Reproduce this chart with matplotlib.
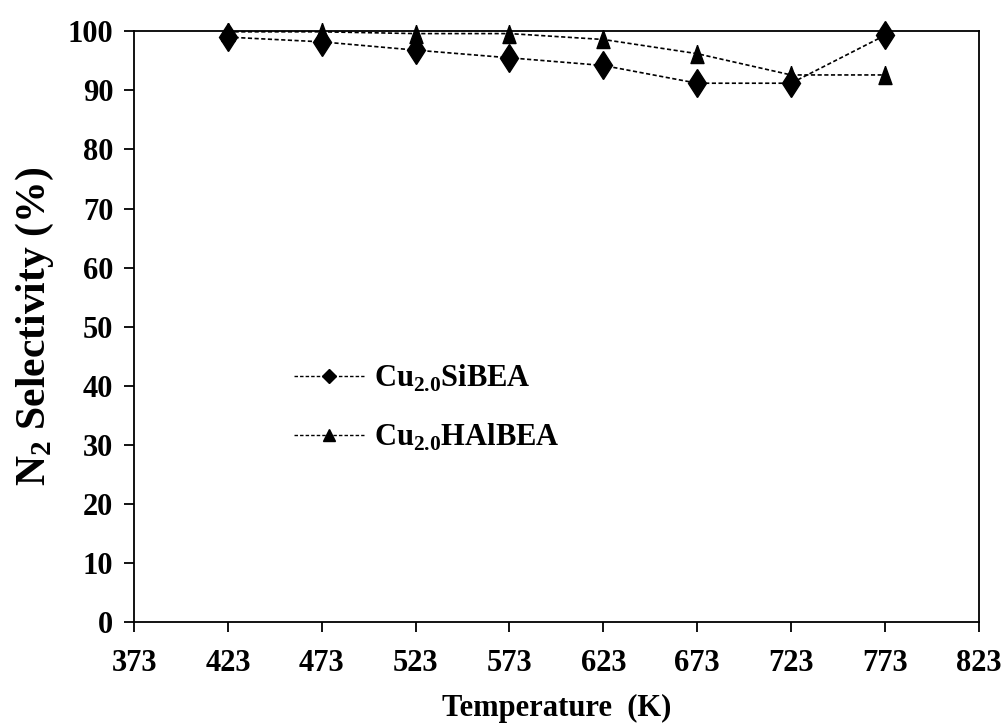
import matplotlib.pyplot as plt
from matplotlib.lines import Line2D

temps = [423, 473, 523, 573, 623, 673, 723, 773]
si_bea = [99.0, 98.2, 96.8, 95.5, 94.2, 91.2, 91.2, 99.3]
hal_bea = [99.9, 99.9, 99.6, 99.6, 98.6, 96.2, 92.6, 92.6]
xticks = [373, 423, 473, 523, 573, 623, 673, 723, 773, 823]
yticks = list(range(0, 101, 10))
labels = [r'Cu$_{\mathregular{2.0}}$SiBEA', r'Cu$_{\mathregular{2.0}}$HAlBEA']

plt.rcParams['font.family'] = ['Liberation Serif', 'DejaVu Serif']
plt.rcParams['font.weight'] = 'bold'
plt.rcParams['mathtext.fontset'] = 'custom'
plt.rcParams['mathtext.rm'] = 'Liberation Serif:bold'
plt.rcParams['mathtext.bf'] = 'Liberation Serif:bold'

tall_tri = [(0, 1), (-0.72, -1), (0.72, -1), (0, 1)]
dash = (0, (2.5, 1.5))

fig = plt.figure(figsize=(10.08, 7.26), dpi=100)
ax = fig.add_axes([0.133, 0.143, 0.838, 0.814])

ax.plot(temps, si_bea, linestyle=dash, color='black', linewidth=1.2,
        marker='d', markersize=14.5, markerfacecolor='black',
        clip_on=False, zorder=3)
ax.plot(temps, hal_bea, linestyle=dash, color='black', linewidth=1.2,
        marker=tall_tri, markersize=13, markerfacecolor='black',
        clip_on=False, zorder=3)

ax.set_xlim(373, 823)
ax.set_ylim(0, 100)
ax.set_xticks(xticks)
ax.set_yticks(yticks)
ax.tick_params(axis='both', direction='out', length=7, width=1.3, labelsize=22)
ax.tick_params(axis='y', pad=8)
ax.tick_params(axis='x', pad=12)
ax.tick_params(top=False, right=False)
for lbl in ax.get_xticklabels() + ax.get_yticklabels():
    lbl.set_fontweight('bold')
for sp in ax.spines.values():
    sp.set_linewidth(1.3)

ax.set_xlabel('Temperature  (K)', fontsize=22, fontweight='bold', labelpad=12)
ax.set_ylabel(r'N$_{\mathregular{2}}$ Selectivity (%)', fontsize=30, fontweight='bold', labelpad=8)

handles = [
    Line2D([], [], linestyle=dash, color='black', linewidth=1.0, marker='D',
           markersize=7, markerfacecolor='black'),
    Line2D([], [], linestyle=dash, color='black', linewidth=1.0, marker='^',
           markersize=8, markerfacecolor='black'),
]
leg = ax.legend(handles, labels, loc='upper left', bbox_to_anchor=(0.157, 0.485),
                frameon=False, fontsize=22, handlelength=2.3, labelspacing=0.9,
                handletextpad=0.3)
for t in leg.get_texts():
    t.set_fontweight('bold')

fig.savefig('out.png', dpi=100)
